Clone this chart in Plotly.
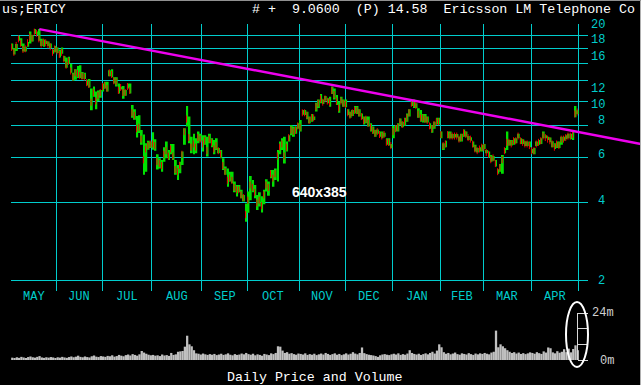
import math
import pandas as pd
import plotly.graph_objects as go

# ---------------- data ----------------
holidays = ["2002-05-27", "2002-07-04", "2002-09-02", "2002-11-28", "2002-12-25",
            "2003-01-01", "2003-01-20", "2003-02-17", "2003-04-18"]
dates = [d for d in pd.bdate_range("2002-05-03", "2003-04-30") if d.strftime("%Y-%m-%d") not in holidays]

highs = [16.8, 16.1, 16.7, 17.95, 17.6, 16.8, 16.3, 17.0, 18.7, 18.1,
         19.1, 18.7, 19.1, 17.5, 17.4, 17.2, 17.1, 16.8, 15.9, 16.4,
         16.2, 15.9, 16.2, 15.0, 14.8, 14.9, 14.0, 12.9, 13.3, 13.7,
         13.8, 13.0, 12.9, 12.1, 12.2, 11.2, 11.4, 10.9, 11.0, 11.05,
         11.7, 11.9, 11.9, 13.2, 13.3, 12.4, 12.4, 11.7, 11.4, 11.45,
         11.05, 11.7, 11.7, 9.65, 9.3, 8.75, 8.8, 7.7, 7.4, 6.85,
         7.0, 6.95, 7.55, 7.1, 6.2, 5.98, 5.89, 6.6, 6.95, 6.44,
         6.8, 6.8, 5.89, 5.63, 5.8, 6.35, 7.83, 9.57, 8.7, 7.25,
         7.45, 7.15, 7.6, 7.45, 7.35, 7.35, 7.25, 7.45, 7.15, 7.05,
         7.15, 6.55, 6.44, 5.98, 5.55, 5.45, 5.3, 5.3, 4.85, 4.7,
         4.7, 4.5, 4.3, 3.98, 4.43, 5.1, 4.92, 4.7, 4.3, 4.4,
         4.25, 4.5, 4.95, 4.85, 5.38, 5.38, 5.45, 6.44, 6.95, 7.15,
         7.25, 6.95, 7.35, 8.05, 7.95, 7.95, 8.2, 8.44, 9.23, 9.23,
         9.08, 8.7, 8.9, 8.7, 9.85, 10.15, 10.66, 10.15, 10.47, 10.25,
         10.4, 11.4, 11.2, 10.55, 9.95, 10.4, 10.15, 10.15, 9.3, 9.08,
         9.23, 9.57, 9.57, 9.3, 8.95, 8.7, 8.7, 8.7, 8.2, 7.95,
         7.71, 7.75, 7.6, 7.6, 7.52, 7.15, 7.15, 6.8, 7.99, 8.05,
         8.2, 8.55, 8.3, 8.6, 8.95, 9.3, 9.95, 10.15, 9.8, 9.37,
         9.23, 8.9, 8.9, 8.7, 8.2, 8.05, 8.3, 8.6, 8.6, 7.6,
         6.85, 7.0, 7.6, 7.6, 7.44, 7.44, 7.44, 7.25, 7.45, 7.75,
         7.6, 7.3, 7.22, 6.95, 6.75, 6.55, 6.6, 6.75, 6.8, 6.44,
         6.35, 6.15, 6.1, 5.89, 5.42, 5.68, 6.15, 6.55, 7.6, 7.05,
         7.05, 7.15, 7.15, 7.45, 7.15, 7.1, 6.97, 6.95, 6.95, 6.5,
         6.55, 6.95, 7.05, 7.15, 7.6, 7.35, 7.25, 7.2, 6.97, 6.85,
         6.95, 6.95, 7.25, 7.25, 7.35, 7.45, 7.45, 7.6, 9.57, 9.2]

lows = [15.9, 15.2, 15.7, 17.2, 16.4, 15.6, 15.6, 16.3, 16.8, 17.1,
        18.3, 18.1, 17.2, 16.4, 16.3, 16.7, 16.4, 16.1, 15.3, 15.5,
        15.4, 14.8, 15.3, 14.3, 13.5, 14.0, 12.9, 12.0, 12.1, 12.3,
        12.3, 12.2, 12.2, 11.5, 11.3, 9.2, 10.4, 9.3, 10.0, 10.3,
        10.9, 11.2, 10.9, 12.5, 12.4, 11.7, 11.4, 10.7, 11.1, 10.2,
        10.5, 11.2, 10.7, 8.6, 8.45, 7.2, 7.5, 6.75, 5.15, 5.3,
        6.45, 6.55, 6.45, 6.4, 5.4, 5.45, 5.3, 5.8, 5.98, 5.89,
        6.2, 5.89, 5.15, 4.92, 5.22, 5.63, 6.75, 7.95, 6.85, 6.25,
        6.2, 6.25, 6.85, 6.95, 6.35, 6.75, 6.07, 6.85, 6.6, 6.2,
        6.44, 6.25, 5.98, 5.38, 5.15, 4.63, 4.85, 4.78, 4.4, 4.24,
        4.4, 4.17, 4.05, 3.38, 3.66, 4.1, 4.4, 4.17, 3.75, 3.87,
        3.67, 3.95, 4.43, 4.27, 5.0, 4.63, 4.92, 4.85, 6.2, 6.44,
        5.7, 6.35, 6.95, 7.35, 7.25, 7.45, 7.8, 7.6, 8.85, 8.82,
        8.5, 8.2, 8.3, 8.44, 9.1, 9.4, 9.8, 9.74, 10.03, 9.8,
        9.5, 10.66, 10.15, 9.65, 9.0, 9.8, 9.5, 9.45, 8.82, 8.6,
        8.75, 8.95, 8.9, 8.7, 8.5, 8.1, 8.2, 7.95, 7.6, 7.45,
        7.25, 7.45, 7.25, 7.15, 7.25, 6.75, 6.7, 6.55, 7.15, 7.6,
        7.6, 8.05, 7.9, 8.0, 8.3, 8.7, 9.57, 9.4, 9.4, 8.6,
        8.3, 8.25, 8.25, 8.25, 7.8, 7.52, 7.8, 8.1, 8.1, 7.15,
        6.44, 6.6, 7.15, 7.15, 7.15, 7.2, 7.2, 6.95, 6.95, 7.25,
        7.25, 7.05, 7.0, 6.6, 6.35, 6.3, 6.35, 6.35, 6.5, 6.25,
        6.03, 5.8, 5.85, 5.55, 5.2, 5.3, 5.2, 6.25, 6.44, 6.7,
        6.7, 6.75, 6.85, 7.15, 6.8, 6.8, 6.68, 6.68, 6.6, 6.25,
        6.2, 6.68, 6.75, 6.8, 7.15, 7.15, 7.05, 6.9, 6.6, 6.5,
        6.55, 6.55, 6.75, 7.0, 7.1, 7.15, 7.1, 7.05, 8.65, 8.9]

closes = [16.2, 15.5, 16.5, 17.5, 16.8, 15.9, 16.0, 16.9, 17.8, 17.6,
          18.6, 18.4, 17.5, 16.7, 17.0, 16.9, 16.6, 16.3, 15.5, 16.0,
          15.7, 15.2, 15.5, 14.6, 13.8, 14.3, 13.1, 12.4, 12.9, 12.8,
          12.6, 12.5, 12.4, 11.8, 11.6, 9.9, 10.8, 10.0, 10.5, 10.8,
          11.4, 11.5, 11.2, 12.9, 12.7, 12.0, 11.9, 11.0, 11.3, 10.8,
          10.8, 11.4, 11.0, 9.0, 8.8, 7.8, 7.9, 7.1, 5.9, 6.5,
          6.7, 6.8, 6.8, 6.7, 5.8, 5.7, 5.6, 6.2, 6.4, 6.1,
          6.5, 6.1, 5.4, 5.3, 5.6, 6.2, 7.6, 8.5, 7.2, 6.6,
          6.8, 6.6, 7.2, 7.1, 6.8, 7.0, 6.4, 7.1, 6.9, 6.5,
          6.7, 6.4, 6.2, 5.6, 5.3, 4.9, 5.0, 4.9, 4.6, 4.5,
          4.5, 4.3, 4.2, 3.6, 4.1, 4.7, 4.6, 4.4, 4.0, 4.1,
          3.9, 4.3, 4.7, 4.6, 5.2, 5.0, 5.2, 6.1, 6.6, 6.8,
          6.1, 6.6, 7.2, 7.7, 7.6, 7.7, 8.0, 7.9, 9.0, 9.0,
          8.8, 8.4, 8.6, 8.6, 9.5, 9.8, 10.2, 9.9, 10.2, 10.0,
          9.9, 11.0, 10.6, 10.0, 9.4, 10.0, 9.8, 9.7, 9.0, 8.8,
          9.0, 9.2, 9.2, 9.0, 8.7, 8.4, 8.5, 8.2, 7.9, 7.7,
          7.5, 7.6, 7.4, 7.3, 7.4, 6.9, 6.9, 6.7, 7.6, 7.8,
          7.9, 8.3, 8.1, 8.3, 8.6, 9.0, 9.8, 9.8, 9.6, 8.9,
          8.6, 8.6, 8.5, 8.4, 8.0, 7.8, 8.1, 8.3, 8.3, 7.4,
          6.7, 6.8, 7.4, 7.3, 7.3, 7.3, 7.3, 7.1, 7.2, 7.5,
          7.4, 7.2, 7.1, 6.8, 6.5, 6.4, 6.5, 6.6, 6.6, 6.3,
          6.2, 5.9, 6.0, 5.7, 5.3, 5.5, 5.9, 6.4, 6.9, 6.9,
          6.8, 7.0, 7.0, 7.3, 7.0, 6.9, 6.8, 6.8, 6.7, 6.4,
          6.4, 6.8, 6.9, 7.0, 7.3, 7.2, 7.1, 7.0, 6.8, 6.6,
          6.8, 6.7, 7.1, 7.1, 7.2, 7.3, 7.3, 7.4, 8.9, 9.06]

volume_m = [1.2, 1.0, 1.4, 1.1, 1.6, 1.3, 1.0, 1.5, 1.8, 1.4, 1.2, 1.6, 2.0, 1.3, 1.1, 1.4, 1.2, 1.5, 1.3, 1.0,
            1.4, 1.2, 1.6, 1.3, 1.1, 1.5, 1.8, 1.4, 1.7, 2.2, 1.6, 1.4, 1.8, 1.5, 1.3, 1.9, 2.3, 1.7, 1.5, 2.0,
            1.8, 1.6, 2.1, 1.9, 2.4, 1.7, 2.0, 2.6, 2.2, 1.9, 2.5, 2.8, 2.3, 3.0, 2.6, 2.2, 2.9, 4.6, 3.8, 3.2, 2.7, 2.4,
            2.6, 2.2, 2.4, 2.0, 2.8, 2.3, 2.5, 2.1, 3.6, 2.6, 2.9, 4.2, 4.4, 4.6, 6.8, 12.4, 8.0, 7.0, 5.0, 3.4, 3.2, 2.8,
            3.3, 2.9, 2.6, 3.0, 2.7, 3.1, 2.5, 2.8, 3.2, 2.6, 2.9, 3.4, 2.7, 2.4, 3.0, 2.6, 2.8, 3.3, 2.9, 3.6,
            3.0, 2.7, 3.2, 2.4, 2.9, 2.6, 2.2, 3.1, 2.8, 2.5, 3.4, 3.0, 3.6, 7.0, 6.8, 4.8, 3.6, 4.0, 3.2, 3.5, 3.0, 2.7, 3.3,
            3.1, 2.8, 3.4, 2.6, 3.0, 2.7, 3.2, 2.5, 2.9, 3.3, 2.8, 3.6, 3.1, 2.6, 3.0, 3.4, 2.7, 3.1, 2.5, 2.9,
            3.4, 2.8, 3.2, 4.0, 3.3, 2.9, 3.6, 6.4, 3.5, 3.0, 2.7, 2.5, 2.3, 2.0, 1.6, 2.4, 2.8, 3.0, 2.7, 2.5, 2.9,
            3.2, 2.8, 3.4, 2.6, 3.0, 2.7, 3.3, 5.0, 3.6, 3.1, 2.8, 3.2, 2.6, 3.0, 3.4, 2.9, 3.6, 4.2, 3.3, 4.8, 8.0,
            6.5, 4.0, 3.2, 3.6, 2.9, 3.3, 3.8, 3.0, 2.7, 3.4, 3.1, 2.8, 3.5, 3.0, 2.6, 3.3, 2.9, 3.4, 3.1,
            3.6, 3.2, 2.9, 3.8, 4.2, 15.0, 6.5, 8.0, 7.0, 6.0, 5.0, 4.2, 3.6, 4.0, 3.3, 3.8, 3.1, 3.5, 3.0, 3.4, 3.9,
            3.6, 3.2, 4.0, 3.5, 3.1, 4.4, 3.8, 6.4, 6.0, 3.9, 3.4, 4.5, 3.7, 4.2, 5.5, 4.0, 5.8, 3.9, 5.6, 7.5, 5.0]

price_ticks = [20, 18, 16, 14, 12, 10, 8, 6, 4, 2]
price_labels = [20, 18, 16, 12, 10, 8, 6, 4, 2]
label_shift = [-1, -4, -8, -8, -4, 5, 3, 2, -1]   # pixel nudges of the right-hand labels
volume_ticks = [0, 8, 16, 24]

trend_idx = [11.9, 276.8]
trend_val = [19.1, 6.8]

# ---------------- layout helpers ----------------
W, H = 641, 385
CYAN = "#00cccc"
GREEN = "#00e000"
RED = "#ee0000"
MAGENTA = "#ee00ee"
GREY = "#c0c0c0"
MONO = "Liberation Mono, DejaVu Sans Mono, monospace"

def fx(p):
    return p / W

def fy(p):
    return 1 - p / H

n = len(dates)
idx = list(range(n))
month_starts = [i for i in range(n) if i == 0 or dates[i].month != dates[i - 1].month]
bounds = [i - 0.5 for i in month_starts] + [n - 0.5]
month_names = [dates[i].strftime("%b").upper() for i in month_starts]
month_mid = [(bounds[k] + bounds[k + 1]) / 2 for k in range(len(month_starts))]

PX_PER_DAY = 2.271
X0 = -0.57
XR = [X0, X0 + (588 - 11) / PX_PER_DAY]
X3R = [X0, X0 + (641 - 11) / PX_PER_DAY]
top_log = math.log10(20) + 0.5 / 256
YR = [top_log - (291 - 23.5) / 256, top_log]

fig = go.Figure()
fig.add_trace(go.Bar(x=idx, y=[h - l for h, l in zip(highs, lows)], base=lows, width=0.85,
                     marker=dict(color=GREEN, line=dict(width=0)), xaxis="x", yaxis="y"))
fig.add_trace(go.Scatter(x=[i - 0.3 for i in idx], y=closes, mode="markers",
                         marker=dict(symbol="line-ns", size=5, line=dict(width=1, color=RED)),
                         xaxis="x", yaxis="y"))
fig.add_trace(go.Bar(x=idx, y=volume_m, width=1.0, marker=dict(color=GREY, line=dict(width=0)),
                     xaxis="x2", yaxis="y2"))
fig.add_trace(go.Scatter(x=trend_idx, y=trend_val, mode="lines", line=dict(color=MAGENTA, width=2.5),
                         xaxis="x3", yaxis="y3"))

ann = []
ann.append(dict(text="us;ERICY", x=0, y=fy(9), xref="paper", yref="paper", xanchor="left",
                yanchor="middle", showarrow=False, font=dict(family=MONO, size=13.3, color="white")))
ann.append(dict(text="# +  9.0600  (P) 14.58  Ericsson LM Telephone Co", x=fx(250), y=fy(9),
                xref="paper", yref="paper", xanchor="left", yanchor="middle", showarrow=False,
                font=dict(family=MONO, size=13.3, color="white")))
ann.append(dict(text="Daily Price and Volume", x=fx(225), y=fy(377), xref="paper", yref="paper",
                xanchor="left", yanchor="middle", showarrow=False,
                font=dict(family=MONO, size=13.3, color="white")))
for v, s in zip(price_labels, label_shift):
    ann.append(dict(text=str(v), x=fx(607), y=math.log10(v), xref="paper", yref="y", xanchor="right",
                    yanchor="middle", yshift=s, showarrow=False,
                    font=dict(family=MONO, size=12, color=CYAN)))
for name, m in zip(month_names, month_mid):
    ann.append(dict(text=name, x=m, y=fy(297), xref="x", yref="paper", xanchor="center",
                    yanchor="middle", showarrow=False, font=dict(family=MONO, size=12, color=CYAN)))
ann.append(dict(text="24m", x=fx(616), y=24, xref="paper", yref="y2", xanchor="right", yanchor="middle",
                showarrow=False, font=dict(family=MONO, size=12, color="#d0d0d0")))
ann.append(dict(text="0m", x=fx(616), y=0, xref="paper", yref="y2", xanchor="right", yanchor="middle",
                yshift=-1, showarrow=False, font=dict(family=MONO, size=12, color="#d0d0d0")))
ann.append(dict(text="<b>640x385</b>", x=fx(319), y=fy(192), xref="paper", yref="paper",
                xanchor="center", yanchor="middle", showarrow=False,
                font=dict(family="Liberation Sans, Arial", size=14, color="white")))

shapes = [
    dict(type="circle", xref="paper", yref="paper", x0=fx(566), x1=fx(588), y0=fy(367), y1=fy(302),
         line=dict(color="white", width=2)),
    dict(type="line", xref="paper", yref="paper", x0=fx(640.5), x1=fx(640.5), y0=0, y1=1,
         line=dict(color="#b0b0b0", width=1)),
    dict(type="line", xref="paper", yref="paper", x0=0, x1=1, y0=fy(0.5), y1=fy(0.5),
         line=dict(color="#909090", width=1)),
]

fig.update_layout(
    width=W, height=H, margin=dict(l=0, r=0, t=0, b=0),
    paper_bgcolor="black", plot_bgcolor="rgba(0,0,0,0)", showlegend=False,
    xaxis=dict(domain=[fx(11), fx(588)], range=XR, tickmode="array", tickvals=bounds,
               showticklabels=False, showgrid=True, gridcolor=CYAN, gridwidth=1, zeroline=False,
               ticks="", showline=False, anchor="y", fixedrange=True),
    yaxis=dict(type="log", domain=[fy(291), fy(23.5)], range=YR, tickmode="array", tickvals=price_ticks,
               showticklabels=False, showgrid=True, gridcolor=CYAN, gridwidth=1, zeroline=False,
               ticks="", showline=False, anchor="x"),
    xaxis2=dict(domain=[fx(11), fx(588)], range=XR, visible=False, anchor="y2"),
    yaxis2=dict(domain=[fy(360), fy(313)], range=[0, 24], anchor="free", position=fx(576.5), side="right",
                showline=True, linecolor="#d8d8d8", linewidth=1, ticks="outside", ticklen=10,
                tickcolor="#d8d8d8", tickwidth=1, tickmode="array", tickvals=volume_ticks,
                showticklabels=False, showgrid=False, zeroline=False),
    xaxis3=dict(domain=[fx(11), 1], range=X3R, visible=False, anchor="y3"),
    yaxis3=dict(type="log", domain=[fy(291), fy(23.5)], range=YR, visible=False, anchor="x3"),
    annotations=ann, shapes=shapes,
)

fig.write_html("out.html")
